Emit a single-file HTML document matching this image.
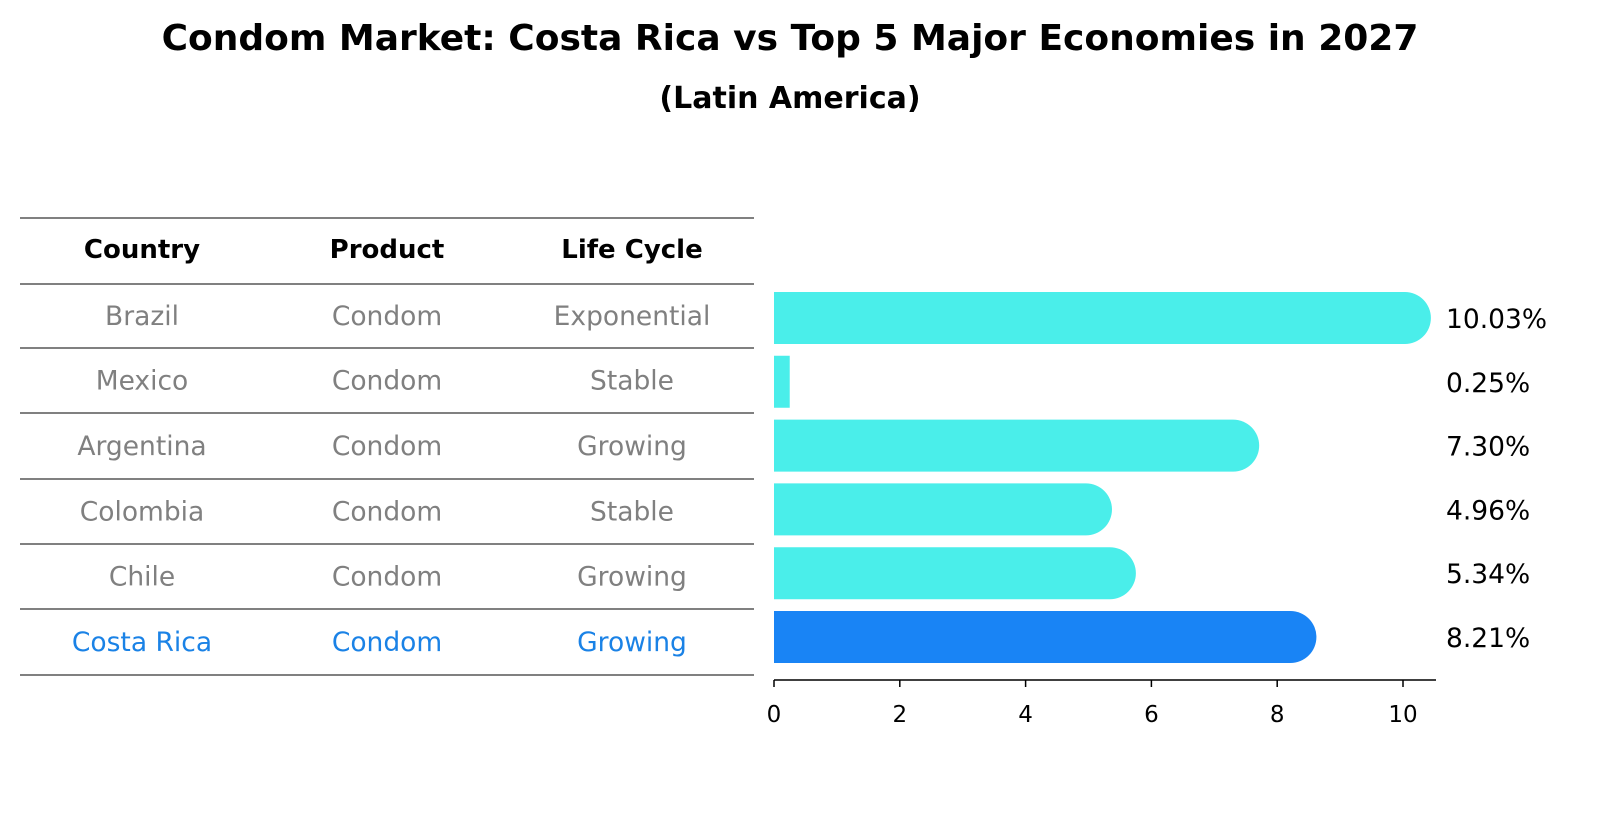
<!DOCTYPE html>
<html><head><meta charset="utf-8"><style>
body{margin:0;background:#fff;font-family:"Liberation Sans","DejaVu Sans",sans-serif;}
</style></head><body>
<svg width="1604" height="823" font-family="DejaVu Sans, Liberation Sans, sans-serif">
<text x="790" y="50" text-anchor="middle" font-size="36" font-weight="bold">Condom Market: Costa Rica vs Top 5 Major Economies in 2027</text>
<text x="790" y="108" text-anchor="middle" font-size="30" font-weight="bold">(Latin America)</text>
<g id="table"></g>
<g id="bars"></g>
</svg>
<script>
const countries=["Brazil","Mexico","Argentina","Colombia","Chile","Costa Rica"];
const products=["Condom","Condom","Condom","Condom","Condom","Condom"];
const lifecycle=["Exponential","Stable","Growing","Stable","Growing","Growing"];
const values=[10.03,0.25,7.30,4.96,5.34,8.21];
const ticks=[0,2,4,6,8,10];
const NS="http://www.w3.org/2000/svg";
function mk(t,a,p){const e=document.createElementNS(NS,t);for(const k in a)e.setAttribute(k,a[k]);p.appendChild(e);return e;}
const tbl=document.getElementById('table');
const lineYs=[218,284,348,413,479,544,609,675];
lineYs.forEach((y,i)=>{const l=mk('line',{x1:20,x2:754,y1:y,y2:y,stroke:'#000','stroke-width':1},tbl);

});
const cx=[142,387,632];
["Country","Product","Life Cycle"].forEach((h,i)=>{const t=mk('text',{x:cx[i],y:258,'text-anchor':'middle','font-size':26,'font-weight':'bold'},tbl);t.textContent=h;

});
countries.forEach((c,r)=>{const y=(lineYs[r+1]+lineYs[r+2])/2+9;const col=r===5?'#1a82e6':'#808080';
[c,products[r],lifecycle[r]].forEach((v,i)=>{const t=mk('text',{x:cx[i],y:y,'text-anchor':'middle','font-size':26.5,fill:col},tbl);t.textContent=v;

});});
const g=document.getElementById('bars');
const x0=774,ppu=62.9;const X=v=>x0+v*ppu;
const yc=i=>318+i*63.8;const h=52,r=26;
values.forEach((v,i)=>{const col=i===5?'#1984f5':'#4aeeea';const x1=X(v),top=yc(i)-h/2;
let d;
if(v<1){d=`M${x0},${top}H${x1}V${top+h}H${x0}Z`;}
else d=`M${x0},${top}H${x1}A${r},${r} 0 0 1 ${x1},${top+h}H${x0}Z`;
const p=mk('path',{d:d,fill:col},g);


const t=mk('text',{x:1446,y:yc(i)+10,'font-size':26.5},g);t.textContent=v.toFixed(2)+'%';

});
const ax=mk('line',{x1:x0,x2:1436,y1:680,y2:680,stroke:'#000','stroke-width':1.5},g);


ticks.forEach(tv=>{const l=mk('line',{x1:X(tv),x2:X(tv),y1:680,y2:687,stroke:'#000','stroke-width':1.5},g);


const t=mk('text',{x:X(tv),y:722,'text-anchor':'middle','font-size':23},g);t.textContent=tv;

});
</script>
</body></html>
